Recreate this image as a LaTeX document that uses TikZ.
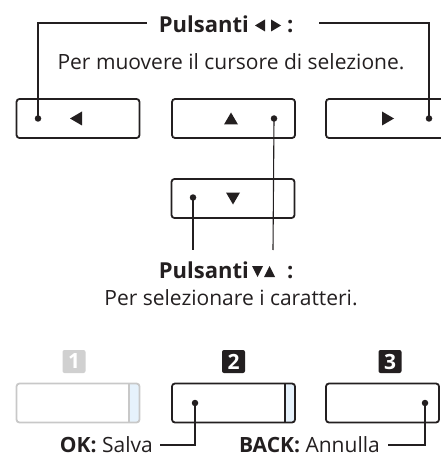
\documentclass[tikz,border=0pt]{standalone}
\usepackage{fontspec}
\setmainfont{Open Sans}
\usetikzlibrary{calc}
\definecolor{lgray}{HTML}{C8C8C8}
\definecolor{sqgray}{HTML}{D0D0D0}
\definecolor{lblue}{HTML}{E6F2FC}
\definecolor{ink}{HTML}{231F20}
\begin{document}
\begin{tikzpicture}[x=1pt,y=-1pt,
  btn/.style={draw=ink,line width=1.8pt,rounded corners=3pt,minimum width=123pt,minimum height=39pt,inner sep=0pt},
  gbtn/.style={btn,draw=lgray},
  dot/.style={circle,fill=ink,inner sep=0pt,minimum size=6.5pt},
  conn/.style={draw=ink,line width=1.1pt},
  txt/.style={font=\fontsize{21}{23}\selectfont,text=ink,inner sep=0pt},
  btxt/.style={txt,font=\fontsize{22}{24}\selectfont\bfseries},
  numsq/.style={minimum size=23pt,inner sep=0pt,rounded corners=2pt,text=white,font=\fontsize{21}{21}\selectfont\bfseries}
]
\useasboundingbox (0,0) rectangle (440,462);
% top row buttons
\node[btn] (L) at (78,118.5) {};
\node[btn] (U) at (233.5,118.5) {};
\node[btn,minimum width=130pt] (R) at (391,118.5) {};
\node[btn] (D) at (233,198.5) {};
% triangles
\fill[ink] (70,118.5) -- (82,111.5) -- (82,125.5) -- cycle;
\fill[ink] (224,124.5) -- (238,124.5) -- (231,112.5) -- cycle;
\fill[ink] (394,118.5) -- (382,111.5) -- (382,125.5) -- cycle;
\fill[ink] (226,192.5) -- (240,192.5) -- (233,204.5) -- cycle;
% dots
\node[dot] (dL) at (38,118.5) {};
\node[dot] (dU) at (274,118.5) {};
\node[dot] (dR) at (429,118.5) {};
\node[dot] (dD) at (193,197.5) {};
% heading 1
\node[btxt,anchor=east] (t1) at (249,24) {Pulsanti};
\node[btxt,anchor=west] (t1c) at (287,24) {\vphantom{Pl}:};
\fill[ink] (255,25.5) -- (265,19.5) -- (265,31.5) -- cycle;
\fill[ink] (281,25.5) -- (271,19.5) -- (271,31.5) -- cycle;
\node[txt] (t2) at (231,62) {Per muovere il cursore di selezione.};
% heading 2
\node[btxt,anchor=east] (t3) at (249,270) {Pulsanti};
\node[btxt,anchor=west] (t3c) at (287,270) {\vphantom{Pl}:};
\fill[ink] (252,266) -- (263,266) -- (257.5,277) -- cycle;
\fill[ink] (264,277) -- (275,277) -- (269.5,266) -- cycle;
\node[txt] (t4) at (231,298) {Per selezionare i caratteri.};
\coordinate (c1) at (147,23);
\coordinate (c2) at (319,23);
\coordinate (c3) at (193,250);
\coordinate (c4) at (273,250);
\draw[conn] (dL.center) |- (c1);
\draw[conn] (dR.center) |- (c2);
\draw[conn] (dD.center) -- (c3);
\draw[conn] (dU.center) -- (c4);
% bottom
\node[numsq,fill=sqgray] (n1) at (74,361.5) {1};
\node[numsq,fill=ink] (n2) at (233.5,361.5) {2};
\node[numsq,fill=ink] (n3) at (390,361.5) {3};
% stripes
\fill[lblue] (129,384) rectangle (139,422);
\fill[lblue] (285,384) rectangle (294,422);
\draw[lgray,line width=1.8pt] (129,384) -- (129,422);
\draw[ink,line width=1.8pt] (285,384) -- (285,422);
\node[gbtn,minimum height=39pt] (b1) at (78,403) {};
\node[btn] (b2) at (233.5,403) {};
\node[btn,minimum width=113pt] (b3) at (382.5,403) {};
\node[dot] (d2) at (195,403) {};
\node[dot] (d3) at (425,403) {};
\node[txt,anchor=east] (ok) at (153,445) {\textbf{OK:} Salva};
\node[txt,anchor=east] (bk) at (380,445) {\textbf{BACK:} Annulla};
\coordinate (c5) at (160,445);
\coordinate (c6) at (388,445);
\draw[conn] (d2.center) |- (c5);
\draw[conn] (d3.center) |- (c6);
\end{tikzpicture}
\end{document}
